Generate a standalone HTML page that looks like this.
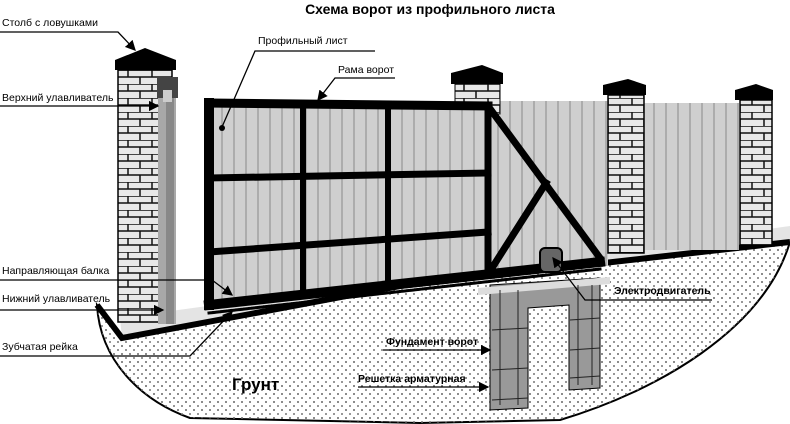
<!DOCTYPE html>
<html><head><meta charset="utf-8"><style>
body{margin:0;background:#fff}
svg{display:block}
text{font-family:"Liberation Sans",sans-serif}
</style></head><body>
<svg width="790" height="424" viewBox="0 0 790 424" xmlns="http://www.w3.org/2000/svg">
<defs>
<pattern id="dots" width="8" height="8" patternUnits="userSpaceOnUse">
<circle cx="2" cy="2" r="1" fill="#666"/><circle cx="6" cy="6" r="1" fill="#777"/>
</pattern>
<pattern id="brick" width="24" height="14" patternUnits="userSpaceOnUse">
<rect width="24" height="14" fill="#e8e8e8"/>
<path d="M0 0H24M0 7H24M8 0V7M20 7V14" stroke="#111" stroke-width="1.5" fill="none"/>
</pattern>
<pattern id="prof" width="12" height="10" patternUnits="userSpaceOnUse">
<rect width="12" height="10" fill="#cfcfcf"/><path d="M6 0V10" stroke="#8a8a8a" stroke-width="1"/>
</pattern>
<marker id="ar" markerWidth="8" markerHeight="8" refX="7" refY="4" orient="auto"><path d="M0 0L8 4L0 8z" fill="#000"/></marker>
</defs>
<text x="430" y="14" text-anchor="middle" font-size="14" font-weight="bold">Схема ворот из профильного листа</text>

<!-- ground -->
<path d="M97 305 C100 360 140 400 190 418 L420 423 L560 420 C660 390 760 330 788 248 L790 242 L400 286 L122 338 Z" fill="#fff" stroke="#000" stroke-width="2"/>
<path d="M97 305 C100 360 140 400 190 418 L420 423 L560 420 C660 390 760 330 788 248 L790 242 L400 286 L122 338 Z" fill="url(#dots)"/>
<!-- platform -->
<path d="M120 318 L790 226 L790 242 L400 286 L122 338 Z" fill="#e4e4e4"/>
<path d="M97 305 L122 338 L400 286 L790 242" fill="none" stroke="#000" stroke-width="6"/>

<!-- fence panels -->
<rect x="500" y="101" width="108" height="165" fill="url(#prof)"/>
<rect x="641" y="103" width="98" height="147" fill="url(#prof)"/>

<!-- pillar 2 -->
<rect x="455" y="84" width="45" height="30" fill="url(#brick)" stroke="#000"/>
<path d="M451 73 L482 65 L503 73 V84 H451 Z" fill="#000"/>
<!-- pillar 3 -->
<rect x="608" y="95" width="36" height="158" fill="url(#brick)" stroke="#000" stroke-width="1.5"/>
<path d="M603 85 L628 79 L646 85 V95 H603 Z" fill="#000"/>
<!-- pillar 4 -->
<rect x="740" y="100" width="32" height="145" fill="url(#brick)" stroke="#000" stroke-width="1.5"/>
<path d="M735 90 L756 84 L773 90 V100 H735 Z" fill="#000"/>

<!-- gate -->
<path d="M205 99 L488 104 L600 262 L205 308 Z" fill="url(#prof)"/>
<g stroke="#000" fill="none" stroke-linecap="square">
<path d="M209 103 L488 106" stroke-width="9"/>
<path d="M209 103 V305" stroke-width="10"/>
<path d="M209 178 L488 173" stroke-width="7"/>
<path d="M209 252 L488 232" stroke-width="7"/>
<path d="M209 305 L600 262" stroke-width="10"/>
<path d="M303 104 V290" stroke-width="6"/>
<path d="M388 105 V282" stroke-width="6"/>
<path d="M488 106 V270" stroke-width="7"/>
<path d="M488 106 L600 258" stroke-width="7"/>
<path d="M546 183 L492 268" stroke-width="7"/>
<path d="M209 313 L600 269" stroke="#000" stroke-width="3" stroke-dasharray="2 2"/>
</g>

<!-- foundation -->
<path d="M490 285 L600 278 V388 L569 390 V305 L528 308 V408 L490 410 Z" fill="#999" stroke="#000"/>
<path d="M478 288 L610 277 L610 284 L478 295 Z" fill="#ddd"/>
<g stroke="#222" fill="none" stroke-width="1">
<path d="M492 330 L528 328 M492 370 L528 368 M492 400 L528 398 M570 320 L600 318 M570 350 L600 348 M570 378 L600 376 M500 290 V405 M518 290 V405 M578 285 V385 M592 285 V385"/>
</g>
<!-- motor -->
<rect x="540" y="248" width="22" height="24" rx="5" fill="#666" stroke="#000" stroke-width="2"/>

<!-- left pillar -->
<rect x="118" y="70" width="54" height="252" fill="url(#brick)" stroke="#000" stroke-width="1.5"/>
<rect x="158" y="98" width="18" height="226" fill="#a8a8a8"/>
<rect x="166" y="98" width="8" height="226" fill="#888"/>
<rect x="157" y="77" width="21" height="21" fill="#444"/>
<rect x="163" y="90" width="9" height="12" fill="#ccc"/>
<path d="M115 60 L145 48 L176 60 V70 H115 Z" fill="#000"/>

<!-- labels -->
<g font-size="10.5">
<text x="2" y="26">Столб с ловушками</text>
<text x="2" y="101">Верхний улавливатель</text>
<text x="2" y="274">Направляющая балка</text>
<text x="2" y="302">Нижний улавливатель</text>
<text x="2" y="350">Зубчатая рейка</text>
<text x="258" y="44">Профильный лист</text>
<text x="338" y="73">Рама ворот</text>
</g>
<g font-size="10.5" font-weight="bold">
<text x="614" y="294">Электродвигатель</text>
<text x="386" y="345">Фундамент ворот</text>
<text x="358" y="382">Решетка арматурная</text>
</g>
<text x="232" y="390" font-size="17" font-weight="bold">Грунт</text>

<g stroke="#000" fill="none" stroke-width="1.3">
<path d="M0 32 H118 L135 50" marker-end="url(#ar)"/>
<path d="M0 106 H140 L158 106" marker-end="url(#ar)"/>
<path d="M0 280 H212 L232 295" marker-end="url(#ar)"/>
<path d="M0 310 H163" marker-end="url(#ar)"/>
<path d="M0 356 H190 L232 312" marker-end="url(#ar)"/>
<path d="M375 51 H255 L222 127"/>
<path d="M395 78 H335 L318 100" marker-end="url(#ar)"/>
<path d="M712 300 H585 L553 258" marker-end="url(#ar)"/>
<path d="M383 350 H490" marker-end="url(#ar)"/>
<path d="M358 387 H488" marker-end="url(#ar)"/>
</g>
<circle cx="222" cy="128" r="3" fill="#000"/>
</svg>
</body></html>
